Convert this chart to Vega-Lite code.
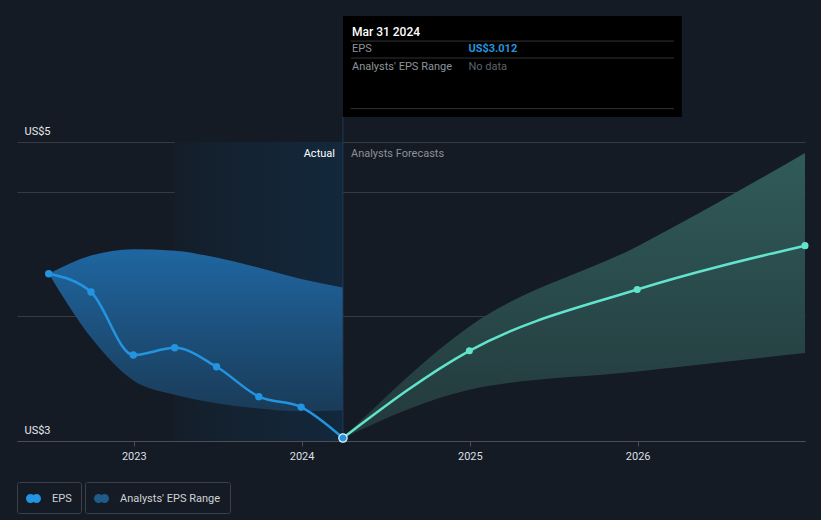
{
  "$schema": "https://vega.github.io/schema/vega-lite/v6.json",
  "width": 788,
  "height": 299,
  "autosize": {"type": "none"},
  "padding": {"left": 17, "top": 142, "right": 16, "bottom": 79},
  "background": "#151b24",
  "config": {
    "view": {"stroke": null},
    "font": "Roboto",
    "legend": {"layout": {"bottom": {"anchor": "start", "direction": "horizontal", "margin": 4}}}
  },
  "datasets": {
    "eps_actual": [
      {"date": "2022-06-30", "eps": 3.671},
      {"date": "2022-09-30", "eps": 3.598},
      {"date": "2022-12-31", "eps": 3.345},
      {"date": "2023-03-31", "eps": 3.374},
      {"date": "2023-06-30", "eps": 3.298},
      {"date": "2023-09-30", "eps": 3.178},
      {"date": "2023-12-31", "eps": 3.136},
      {"date": "2024-03-31", "eps": 3.012}
    ],
    "eps_forecast": [
      {"date": "2024-03-31", "eps": 3.012},
      {"date": "2024-12-31", "eps": 3.362},
      {"date": "2025-12-31", "eps": 3.608},
      {"date": "2026-12-31", "eps": 3.784}
    ],
    "range_actual": [
      {"date": "2022-06-30", "low": 3.671, "high": 3.671},
      {"date": "2022-09-30", "low": 3.415, "high": 3.744},
      {"date": "2022-12-31", "low": 3.243, "high": 3.770},
      {"date": "2023-03-31", "low": 3.186, "high": 3.764},
      {"date": "2023-06-30", "low": 3.152, "high": 3.736},
      {"date": "2023-09-30", "low": 3.130, "high": 3.695},
      {"date": "2023-12-31", "low": 3.119, "high": 3.650},
      {"date": "2024-03-31", "low": 3.123, "high": 3.616}
    ],
    "range_forecast": [
      {"date": "2024-03-31", "low": 3.012, "high": 3.012},
      {"date": "2024-12-31", "low": 3.206, "high": 3.460},
      {"date": "2025-12-31", "low": 3.279, "high": 3.781},
      {"date": "2026-12-31", "low": 3.353, "high": 4.156}
    ],
    "legend_eps": [{"series": "EPS"}],
    "legend_range": [{"series": "Analysts' EPS Range"}],
    "one": [{"k": 1}]
  },
  "encoding": {
    "y": {
      "type": "quantitative",
      "scale": {"domain": [3, 4.2], "zero": false, "nice": false},
      "axis": {
        "title": null,
        "grid": true,
        "values": [3, 3.5, 4, 4.2],
        "labelExpr": "datum.value == 3 ? 'US$3' : (datum.value > 4.1 ? 'US$5' : '')",
        "domain": false,
        "ticks": false,
        "tickSize": 0,
        "labelAlign": "left",
        "labelBaseline": "middle",
        "labelPadding": -7,
        "labelOffset": -11,
        "labelOverlap": false,
        "labelColor": "#e6e8eb",
        "labelFontSize": 11,
        "labelFont": "Roboto",
        "gridColor": "#363b43",
        "gridWidth": 1
      }
    }
  },
  "layer": [
    {
      "data": {"name": "one"},
      "mark": {
        "type": "rect",
        "fill": {
          "gradient": "linear", "x1": 0, "x2": 1, "y1": 0, "y2": 0,
          "stops": [{"offset": 0, "color": "#141e2a"}, {"offset": 1, "color": "#13283c"}]
        }
      },
      "encoding": {
        "x": {"datum": {"year": 2023, "month": 3, "date": 31, "utc": true}, "type": "temporal"},
        "x2": {"datum": {"year": 2024, "month": 3, "date": 31, "utc": true}},
        "y": {"datum": 4.2, "type": "quantitative"},
        "y2": {"datum": 3}
      }
    },
    {
      "data": {"name": "range_actual"},
      "mark": {
        "type": "area",
        "interpolate": "monotone",
        "fill": {
          "gradient": "linear", "x1": 0, "x2": 0, "y1": 0, "y2": 1,
          "stops": [{"offset": 0, "color": "#1f66a1"}, {"offset": 1, "color": "#1a3b58"}]
        }
      },
      "encoding": {
        "x": {
          "field": "date",
          "type": "temporal",
          "scale": {
            "type": "utc",
            "domain": [
              {"year": 2022, "month": 4, "date": 22, "utc": true},
              {"year": 2026, "month": 12, "date": 31, "utc": true}
            ]
          },
          "axis": {
            "title": null,
            "format": "%Y",
            "values": [
              {"year": 2023, "month": 1, "date": 1, "utc": true},
              {"year": 2024, "month": 1, "date": 1, "utc": true},
              {"year": 2025, "month": 1, "date": 1, "utc": true},
              {"year": 2026, "month": 1, "date": 1, "utc": true}
            ],
            "grid": false,
            "domainColor": "#4a4f57",
            "tickColor": "#4a4f57",
            "tickSize": 5,
            "labelPadding": 4,
            "labelColor": "#dcdfe3",
            "labelFontSize": 11,
            "labelFont": "Roboto"
          }
        },
        "y": {"field": "high", "type": "quantitative"},
        "y2": {"field": "low"}
      }
    },
    {
      "data": {"name": "range_forecast"},
      "mark": {
        "type": "area",
        "interpolate": "monotone",
        "fill": {
          "gradient": "linear", "x1": 0, "x2": 0, "y1": 0, "y2": 1,
          "stops": [{"offset": 0, "color": "#305b59"}, {"offset": 1, "color": "#23393c"}]
        }
      },
      "encoding": {
        "x": {"field": "date", "type": "temporal"},
        "y": {"field": "high", "type": "quantitative"},
        "y2": {"field": "low"}
      }
    },
    {
      "data": {"name": "one"},
      "mark": {"type": "rule", "color": "#1d3b57", "strokeWidth": 1},
      "encoding": {
        "x": {"datum": {"year": 2024, "month": 3, "date": 31, "utc": true}, "type": "temporal"},
        "y": {"datum": 4.3, "type": "quantitative"},
        "y2": {"datum": 3}
      }
    },
    {
      "data": {"name": "eps_actual"},
      "mark": {"type": "line", "interpolate": "monotone", "color": "#2394df", "strokeWidth": 2.5},
      "encoding": {
        "x": {"field": "date", "type": "temporal"},
        "y": {"field": "eps", "type": "quantitative"}
      }
    },
    {
      "data": {"name": "eps_actual"},
      "mark": {"type": "point", "filled": true, "color": "#2394df", "size": 55, "opacity": 1},
      "encoding": {
        "x": {"field": "date", "type": "temporal"},
        "y": {"field": "eps", "type": "quantitative"}
      }
    },
    {
      "data": {"name": "eps_forecast"},
      "mark": {"type": "line", "interpolate": "monotone", "color": "#62e3cb", "strokeWidth": 2.5},
      "encoding": {
        "x": {"field": "date", "type": "temporal"},
        "y": {"field": "eps", "type": "quantitative"}
      }
    },
    {
      "data": {"name": "eps_forecast"},
      "transform": [{"filter": "datum.eps > 3.1"}],
      "mark": {"type": "point", "filled": true, "color": "#62e3cb", "size": 50, "opacity": 1},
      "encoding": {
        "x": {"field": "date", "type": "temporal"},
        "y": {"field": "eps", "type": "quantitative"}
      }
    },
    {
      "data": {"name": "eps_actual"},
      "transform": [{"filter": "datum.eps < 3.05"}],
      "mark": {"type": "point", "filled": true, "fill": "#2394df", "stroke": "#e8f4ff", "strokeWidth": 1.2, "size": 70, "opacity": 1},
      "encoding": {
        "x": {"field": "date", "type": "temporal"},
        "y": {"field": "eps", "type": "quantitative"}
      }
    },
    {
      "data": {"name": "one"},
      "mark": {"type": "text", "text": "Actual", "align": "right", "baseline": "middle", "dx": -8, "dy": 12, "color": "#ffffff", "fontSize": 11, "font": "Roboto"},
      "encoding": {
        "x": {"datum": {"year": 2024, "month": 3, "date": 31, "utc": true}, "type": "temporal"},
        "y": {"datum": 4.2, "type": "quantitative"}
      }
    },
    {
      "data": {"name": "one"},
      "mark": {"type": "text", "text": "Analysts Forecasts", "align": "left", "baseline": "middle", "dx": 8, "dy": 12, "color": "#8b9097", "fontSize": 11, "font": "Roboto"},
      "encoding": {
        "x": {"datum": {"year": 2024, "month": 3, "date": 31, "utc": true}, "type": "temporal"},
        "y": {"datum": 4.2, "type": "quantitative"}
      }
    },
    {
      "data": {"name": "one"},
      "mark": {"type": "rect", "fill": "#000000"},
      "encoding": {
        "x": {"datum": {"year": 2024, "month": 3, "date": 31, "utc": true}, "type": "temporal"},
        "x2": {"datum": {"year": 2026, "month": 4, "date": 7, "utc": true}},
        "y": {"datum": 4.706, "type": "quantitative"},
        "y2": {"datum": 4.3}
      }
    },
    {
      "data": {"name": "one"},
      "mark": {"type": "rule", "color": "#333333", "strokeWidth": 1},
      "encoding": {
        "x": {"datum": {"year": 2024, "month": 4, "date": 17, "utc": true}, "type": "temporal"},
        "x2": {"datum": {"year": 2026, "month": 3, "date": 21, "utc": true}},
        "y": {"datum": 4.605, "type": "quantitative"}
      }
    },
    {
      "data": {"name": "one"},
      "mark": {"type": "rule", "color": "#333333", "strokeWidth": 1},
      "encoding": {
        "x": {"datum": {"year": 2024, "month": 4, "date": 17, "utc": true}, "type": "temporal"},
        "x2": {"datum": {"year": 2026, "month": 3, "date": 21, "utc": true}},
        "y": {"datum": 4.537, "type": "quantitative"}
      }
    },
    {
      "data": {"name": "one"},
      "mark": {"type": "rule", "color": "#333333", "strokeWidth": 1},
      "encoding": {
        "x": {"datum": {"year": 2024, "month": 4, "date": 17, "utc": true}, "type": "temporal"},
        "x2": {"datum": {"year": 2026, "month": 3, "date": 21, "utc": true}},
        "y": {"datum": 4.334, "type": "quantitative"}
      }
    },
    {
      "data": {"name": "one"},
      "mark": {"type": "text", "text": "Mar 31 2024", "align": "left", "baseline": "middle", "dx": 9, "color": "#ffffff", "fontSize": 12, "fontWeight": 500, "font": "Roboto"},
      "encoding": {
        "x": {"datum": {"year": 2024, "month": 3, "date": 31, "utc": true}, "type": "temporal"},
        "y": {"datum": 4.642, "type": "quantitative"}
      }
    },
    {
      "data": {"name": "one"},
      "mark": {"type": "text", "text": "EPS", "align": "left", "baseline": "middle", "dx": 9, "color": "#8e9399", "fontSize": 11, "font": "Roboto"},
      "encoding": {
        "x": {"datum": {"year": 2024, "month": 3, "date": 31, "utc": true}, "type": "temporal"},
        "y": {"datum": 4.575, "type": "quantitative"}
      }
    },
    {
      "data": {"name": "one"},
      "mark": {"type": "text", "text": "Analysts' EPS Range", "align": "left", "baseline": "middle", "dx": 9, "color": "#8e9399", "fontSize": 11, "font": "Roboto"},
      "encoding": {
        "x": {"datum": {"year": 2024, "month": 3, "date": 31, "utc": true}, "type": "temporal"},
        "y": {"datum": 4.503, "type": "quantitative"}
      }
    },
    {
      "data": {"name": "one"},
      "mark": {"type": "text", "text": "US$3.012", "align": "left", "baseline": "middle", "color": "#2394df", "fontSize": 11, "fontWeight": "bold", "font": "Roboto"},
      "encoding": {
        "x": {"datum": {"year": 2024, "month": 12, "date": 29, "utc": true}, "type": "temporal"},
        "y": {"datum": 4.575, "type": "quantitative"}
      }
    },
    {
      "data": {"name": "one"},
      "mark": {"type": "text", "text": "No data", "align": "left", "baseline": "middle", "color": "#5f6368", "fontSize": 11, "font": "Roboto"},
      "encoding": {
        "x": {"datum": {"year": 2024, "month": 12, "date": 29, "utc": true}, "type": "temporal"},
        "y": {"datum": 4.503, "type": "quantitative"}
      }
    },
    {
      "data": {"name": "legend_eps"},
      "mark": {"type": "point", "filled": true, "opacity": 0},
      "encoding": {
        "color": {
          "field": "series",
          "type": "nominal",
          "scale": {"domain": ["EPS"], "range": ["#2394df"]},
          "legend": {
            "title": null,
            "orient": "bottom",
            "direction": "horizontal",
            "offset": 21,
            "strokeColor": "#3c4048",
            "cornerRadius": 2,
            "padding": 9,
            "symbolType": "M-1,0A0.6,0.6 0 1,0 0.2,0A0.6,0.6 0 1,0 -1,0ZM-0.2,0A0.6,0.6 0 1,0 1,0A0.6,0.6 0 1,0 -0.2,0Z",
            "symbolSize": 225,
            "symbolOpacity": 1,
            "symbolStrokeWidth": 0,
            "labelColor": "#cfd2d6",
            "labelFontSize": 11,
            "labelFont": "Roboto",
            "labelOffset": 11,
            "encoding": {
              "symbols": {
                "fill": {"value": {"gradient": "linear", "x1": 0, "x2": 1, "y1": 0, "y2": 0, "stops": [{"offset": 0, "color": "#2394df"}, {"offset": 0.42, "color": "#2394df"}, {"offset": 0.42, "color": "#62e3cb"}, {"offset": 1, "color": "#62e3cb"}]}},
                "strokeWidth": {"value": 0},
                "opacity": {"value": 1}
              }
            }
          }
        }
      }
    },
    {
      "data": {"name": "legend_range"},
      "mark": {"type": "point", "filled": true, "opacity": 0},
      "encoding": {
        "fill": {
          "field": "series",
          "type": "nominal",
          "scale": {"domain": ["Analysts' EPS Range"], "range": ["#1f5b88"]},
          "legend": {
            "title": null,
            "orient": "bottom",
            "direction": "horizontal",
            "offset": 21,
            "strokeColor": "#3c4048",
            "cornerRadius": 2,
            "padding": 9,
            "symbolType": "M-1,0A0.6,0.6 0 1,0 0.2,0A0.6,0.6 0 1,0 -1,0ZM-0.2,0A0.6,0.6 0 1,0 1,0A0.6,0.6 0 1,0 -0.2,0Z",
            "symbolSize": 225,
            "symbolOpacity": 1,
            "symbolStrokeWidth": 0,
            "labelColor": "#cfd2d6",
            "labelFontSize": 11,
            "labelFont": "Roboto",
            "labelOffset": 11,
            "encoding": {
              "symbols": {
                "fill": {"value": {"gradient": "linear", "x1": 0, "x2": 1, "y1": 0, "y2": 0, "stops": [{"offset": 0, "color": "#1f5b88"}, {"offset": 0.42, "color": "#1f5b88"}, {"offset": 0.42, "color": "#3f7c75"}, {"offset": 1, "color": "#3f7c75"}]}},
                "strokeWidth": {"value": 0},
                "opacity": {"value": 1}
              }
            }
          }
        }
      }
    }
  ]
}
